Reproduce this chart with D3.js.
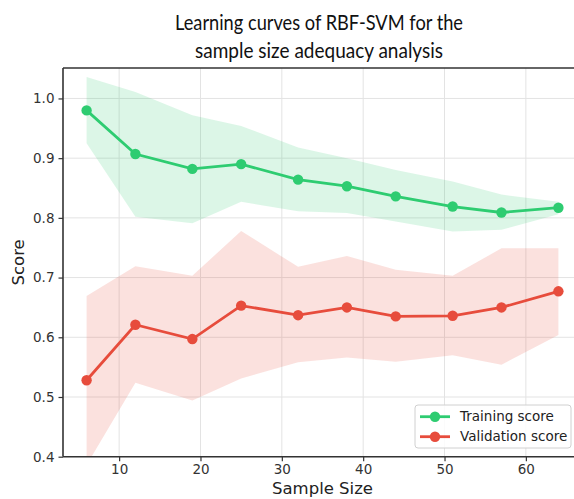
<!DOCTYPE html>
<html>
<head>
<meta charset="utf-8">
<script src="https://cdn.jsdelivr.net/npm/d3@7"></script>
<style>
  html, body { margin: 0; padding: 0; background: #fff; }
  svg { display: block; }
</style>
</head>
<body>
<div id="chart"></div>
<script>
// -------- Data --------
const sampleSizes = [6, 12, 19, 25, 32, 38, 44, 51, 57, 64];

const trainMean  = [0.980, 0.907, 0.882, 0.890, 0.864, 0.853, 0.836, 0.819, 0.809, 0.817];
const trainUpper = [1.036, 1.011, 0.972, 0.954, 0.918, 0.900, 0.880, 0.861, 0.839, 0.827];
const trainLower = [0.925, 0.802, 0.791, 0.827, 0.811, 0.808, 0.794, 0.777, 0.780, 0.806];

const validMean  = [0.528, 0.621, 0.597, 0.653, 0.637, 0.650, 0.635, 0.636, 0.650, 0.677];
const validUpper = [0.669, 0.719, 0.703, 0.778, 0.718, 0.736, 0.713, 0.703, 0.749, 0.749];
const validLower = [0.386, 0.524, 0.494, 0.531, 0.558, 0.566, 0.559, 0.570, 0.554, 0.604];

const xTicks = [10, 20, 30, 40, 50, 60];
const yTicks = [0.4, 0.5, 0.6, 0.7, 0.8, 0.9, 1.0];

const titleLines = ["Learning curves of RBF-SVM for the", "sample size adequacy analysis"];
const titleWidths = [288, 248];   // measured line widths in the reference

const series = [
  { name: "Training score",   color: "#2ecc71", mean: trainMean, lo: trainLower, hi: trainUpper },
  { name: "Validation score", color: "#e74c3c", mean: validMean, lo: validLower, hi: validUpper },
];

// -------- Layout --------
const width = 574, height = 499;
const plot = { left: 63, top: 68, right: 582, bottom: 456.7 };

const svg = d3.select("#chart").append("svg")
  .attr("width", width)
  .attr("height", height);

const x = d3.scaleLinear().domain([3.1, 66.9]).range([plot.left, plot.right]);
const y = d3.scaleLinear().domain([0.4, 1.051]).range([plot.bottom, plot.top]);

svg.append("defs").append("clipPath").attr("id", "clip")
  .append("rect")
  .attr("x", plot.left).attr("y", plot.top)
  .attr("width", plot.right - plot.left).attr("height", plot.bottom - plot.top);

// Grid
const grid = svg.append("g");
grid.selectAll("line.gx").data(xTicks).join("line")
  .attr("x1", d => x(d)).attr("x2", d => x(d))
  .attr("y1", plot.top).attr("y2", plot.bottom)
  .attr("stroke", "#e3e3e3").attr("stroke-width", 1);
grid.selectAll("line.gy").data(yTicks).join("line")
  .attr("x1", plot.left).attr("x2", plot.right)
  .attr("y1", d => y(d)).attr("y2", d => y(d))
  .attr("stroke", "#e3e3e3").attr("stroke-width", 1);

// Bands, lines, markers
const body = svg.append("g").attr("clip-path", "url(#clip)");

const area = d3.area()
  .x((d, i) => x(sampleSizes[i]));

series.forEach(s => {
  body.append("path")
    .datum(s.mean)
    .attr("d", area.y0((d, i) => y(s.lo[i])).y1((d, i) => y(s.hi[i])))
    .attr("fill", s.color)
    .attr("fill-opacity", 0.17);
});

const line = d3.line()
  .x((d, i) => x(sampleSizes[i]))
  .y(d => y(d));

series.forEach(s => {
  body.append("path")
    .datum(s.mean)
    .attr("d", line)
    .attr("fill", "none")
    .attr("stroke", s.color)
    .attr("stroke-width", 2.8);

  body.selectAll(null)
    .data(s.mean)
    .join("circle")
    .attr("cx", (d, i) => x(sampleSizes[i]))
    .attr("cy", d => y(d))
    .attr("r", 5.2)
    .attr("fill", s.color);
});

// Axes
const tickFont = "DejaVu Sans, sans-serif";

const xAxis = svg.append("g")
  .attr("transform", `translate(0,${plot.bottom})`)
  .call(d3.axisBottom(x).tickValues(xTicks).tickFormat(d3.format("d")).tickSizeOuter(0).tickSize(4.5).tickPadding(3.5));

const yAxis = svg.append("g")
  .attr("transform", `translate(${plot.left},0)`)
  .call(d3.axisLeft(y).tickValues(yTicks).tickFormat(d3.format(".1f")).tickSizeOuter(0).tickSize(4.5).tickPadding(4));

[xAxis, yAxis].forEach(g => {
  g.select(".domain").remove();
  g.selectAll(".tick line").attr("stroke", "#333").attr("stroke-width", 1.2);
  g.selectAll(".tick text")
    .attr("fill", "#333")
    .style("font-family", tickFont)
    .style("font-size", "13.5px");
});

// Spines: left, top, bottom (right one is outside the picture)
const spines = svg.append("g").attr("stroke", "#333").attr("stroke-width", 1.6).attr("fill", "none");
spines.append("line").attr("x1", plot.left).attr("x2", plot.left).attr("y1", plot.top).attr("y2", plot.bottom);
spines.append("line").attr("x1", plot.left).attr("x2", plot.right).attr("y1", plot.top).attr("y2", plot.top);
spines.append("line").attr("x1", plot.left).attr("x2", plot.right).attr("y1", plot.bottom).attr("y2", plot.bottom);

// Axis labels
svg.append("text")
  .attr("x", (plot.left + plot.right) / 2)
  .attr("y", 494)
  .attr("text-anchor", "middle")
  .attr("fill", "#222")
  .style("font-family", tickFont)
  .style("font-size", "16.5px")
  .text("Sample Size");

svg.append("text")
  .attr("transform", `translate(24,${(plot.top + plot.bottom) / 2}) rotate(-90)`)
  .attr("text-anchor", "middle")
  .attr("fill", "#222")
  .style("font-family", tickFont)
  .style("font-size", "16.5px")
  .text("Score");

// Title
svg.append("g").selectAll("text")
  .data(titleLines)
  .join("text")
  .attr("x", 319)
  .attr("y", (d, i) => 30 + i * 27.5)
  .attr("text-anchor", "middle")
  .attr("textLength", (d, i) => titleWidths[i])
  .attr("lengthAdjust", "spacingAndGlyphs")
  .attr("fill", "#111")
  .style("font-family", "Lato, sans-serif")
  .style("font-size", "20.5px")
  .text(d => d);

// Legend
const legend = svg.append("g").attr("transform", "translate(415,405)");
legend.append("rect")
  .attr("width", 156).attr("height", 43)
  .attr("rx", 3)
  .attr("fill", "#fff").attr("fill-opacity", 0.85)
  .attr("stroke", "#d0d0d0");

const items = legend.selectAll("g.item")
  .data(series)
  .join("g")
  .attr("transform", (d, i) => `translate(0,${11.7 + i * 20})`);

items.append("line")
  .attr("x1", 5).attr("x2", 35)
  .attr("stroke", d => d.color).attr("stroke-width", 2.8);
items.append("circle")
  .attr("cx", 20).attr("r", 5.2)
  .attr("fill", d => d.color);
items.append("text")
  .attr("x", 45).attr("dy", "0.35em")
  .attr("fill", "#222")
  .style("font-family", tickFont)
  .style("font-size", "13.5px")
  .text(d => d.name);
</script>
</body>
</html>
